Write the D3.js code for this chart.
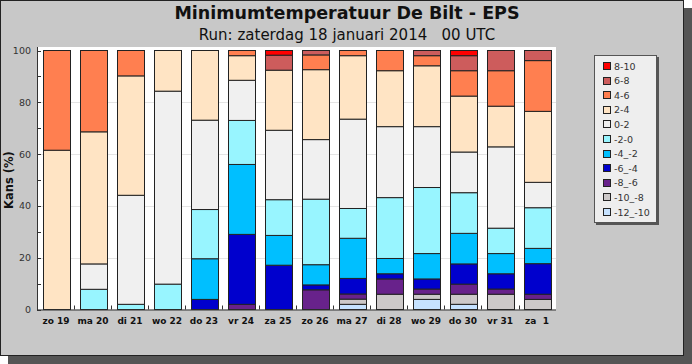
<!DOCTYPE html>
<html><head><meta charset="utf-8">
<script src="https://cdn.jsdelivr.net/npm/d3@7"></script>
<style>html,body{margin:0;padding:0;background:#fff;}svg{display:block;}</style>
</head><body>
<svg id="chart" width="692" height="364"></svg>
<script>
const days = ["zo 19","ma 20","di 21","wo 22","do 23","vr 24","za 25","zo 26","ma 27","di 28","wo 29","do 30","vr 31","za  1"];
const classes = ["-12_-10","-10_-8","-8_-6","-6_-4","-4_-2","-2-0","0-2","2-4","4-6","6-8","8-10"];
const colors = ["#c6e2ff","#cdc9c9","#68228b","#0000cd","#00bfff","#98f5ff","#f0f0f0","#ffe4c4","#ff7f50","#cd5c5c","#ff0000"];
const m12 = [0,0,0,0,0,0,0,0,2.0,0,3.9,2.0,0,0];
const m10 = [0,0,0,0,0,0,0,0,2.0,5.9,2.0,3.9,5.9,3.9];
const m8  = [0,0,0,0,0,2.0,0,7.6,2.0,5.9,2.0,3.9,2.0,2.0];
const m6  = [0,0,0,0,3.9,27.0,17.1,1.9,6.0,2.0,3.9,7.8,5.9,11.8];
const m4  = [0,0,0,0,15.7,27.0,11.5,7.8,15.5,5.9,9.8,11.8,7.8,5.9];
const m2  = [0,7.8,2.0,9.8,19.0,17.0,13.8,25.3,11.5,23.5,25.5,15.7,9.8,15.7];
const p0  = [0,9.8,42.1,74.5,34.5,15.5,26.8,23.0,34.5,27.4,23.5,15.7,31.4,9.8];
const p2  = [61.5,51.0,46.1,15.7,26.9,9.5,23.2,27.0,24.5,21.6,23.5,21.6,15.7,27.4];
const p4  = [38.5,31.4,9.8,0,0,2.0,0,5.7,2.0,7.8,3.9,9.8,13.7,19.6];
const p6  = [0,0,0,0,0,0,5.8,1.7,0,0,2.0,5.8,7.8,3.9];
const p8  = [0,0,0,0,0,0,1.8,0,0,0,0,2.0,0,0];
const seriesValues = [m12,m10,m8,m6,m4,m2,p0,p2,p4,p6,p8];
const yTicks = [0,20,40,60,80,100];
const title = "Minimumtemperatuur De Bilt - EPS";
const subtitle = "Run: zaterdag 18 januari 2014\u00a0\u00a0\u00a000 UTC";
const yTitle = "Kans (%)";

const svg = d3.select("#chart");
const font = "DejaVu Sans, Verdana, sans-serif";

// frame + shadow
svg.append("rect").attr("x",8).attr("y",8).attr("width",684).attr("height",356).attr("fill","#555");
svg.append("rect").attr("x",0.5).attr("y",0.5).attr("width",683).attr("height",355).attr("fill","#c8c8c8").attr("stroke","#222");

const plot = {l:37, r:556, t:47, b:309.5};
svg.append("rect").attr("x",plot.l).attr("y",plot.t).attr("width",plot.r-plot.l).attr("height",plot.b-plot.t).attr("fill","#fff");

const x = d3.scaleBand().domain(days).range([plot.l+0.5, plot.r-0.5]).paddingInner(0.28).paddingOuter(0.14);
const y = d3.scaleLinear().domain([0,100]).range([309.5, 50.5]);

// grid
svg.append("g").selectAll("line").data([20,40,60,80]).join("line")
  .attr("x1",plot.l).attr("x2",plot.r).attr("y1",d=>Math.round(y(d))+0.5).attr("y2",d=>Math.round(y(d))+0.5)
  .attr("stroke","#e4e4e4").attr("stroke-width",1);

// stack
const table = days.map((d,i)=>{const o={day:d}; classes.forEach((c,k)=>o[c]=seriesValues[k][i]); return o;});
const stacked = d3.stack().keys(classes)(table);
const g = svg.append("g");
stacked.forEach((layer,k)=>{
  g.append("g").selectAll("rect").data(layer.filter(s=>s[1]-s[0]>0.01)).join("rect")
    .attr("x", d=>Math.round(x(d.data.day))+0.5)
    .attr("width", Math.round(x.bandwidth()))
    .attr("y", d=>y(d[1]))
    .attr("height", d=>y(d[0])-y(d[1]))
    .attr("fill", colors[k])
    .attr("stroke","#222").attr("stroke-width",1);
});

// axes
const ax = svg.append("g").attr("font-family",font);
ax.append("line").attr("x1",plot.l+0.5).attr("x2",plot.l+0.5).attr("y1",plot.t).attr("y2",plot.b+0.5).attr("stroke","#333");
ax.append("line").attr("x1",plot.l).attr("x2",plot.r).attr("y1",plot.b+0.5).attr("y2",plot.b+0.5).attr("stroke","#333");
const minor = d3.range(0,101,10);
ax.selectAll(".yt").data(minor).join("line")
  .attr("x1",plot.l).attr("x2",plot.l+4).attr("y1",d=>Math.round(y(d))+0.5).attr("y2",d=>Math.round(y(d))+0.5).attr("stroke","#333");
ax.selectAll(".yl").data(yTicks).join("text")
  .attr("x",31).attr("y",d=>y(d)+3.5).attr("text-anchor","end").attr("font-size",9.5).attr("fill","#333").text(d=>d);
const bounds = days.map(d=>x(d)-x.step()*x.paddingInner()/2).slice(1);
ax.selectAll(".xt").data(bounds).join("line")
  .attr("x1",d=>Math.round(d)+0.5).attr("x2",d=>Math.round(d)+0.5).attr("y1",plot.b-4).attr("y2",plot.b).attr("stroke","#333");
ax.selectAll(".xl").data(days).join("text")
  .attr("x",d=>x(d)+x.bandwidth()/2).attr("y",324).attr("text-anchor","middle")
  .attr("font-size",9).attr("font-weight","bold").attr("fill","#111").attr("xml:space","preserve").style("white-space","pre").text(d=>d);

// y title
svg.append("text").attr("transform","translate(13,180) rotate(-90)").attr("text-anchor","middle")
  .attr("font-family",font).attr("font-size",11.5).attr("font-weight","bold").attr("fill","#111").text(yTitle);

// titles
svg.append("text").attr("x",347).attr("y",19).attr("text-anchor","middle").attr("font-family",font)
  .attr("font-size",17.5).attr("font-weight","bold").attr("fill","#111").text(title);
svg.append("text").attr("x",347).attr("y",39.5).attr("text-anchor","middle").attr("font-family",font)
  .attr("font-size",15).attr("fill","#111").text(subtitle);

// legend
const lg = svg.append("g").attr("font-family",font);
lg.append("rect").attr("x",596).attr("y",57).attr("width",63).attr("height",168).attr("fill","#555");
lg.append("rect").attr("x",594.5).attr("y",55.5).attr("width",62).attr("height",167).attr("fill","#eeeeee").attr("stroke","#555");
const legOrder = classes.map((c,k)=>({c,k})).reverse();
legOrder.forEach((o,i)=>{
  const cy = 66 + i*14.6;
  lg.append("rect").attr("x",603.5).attr("y",Math.round(cy-4)+0.5).attr("width",7).attr("height",7)
    .attr("fill",colors[o.k]).attr("stroke","#222");
  lg.append("text").attr("x",614).attr("y",cy+3.5).attr("font-size",9.5).attr("fill","#333").text(o.c);
});
</script>
</body></html>
